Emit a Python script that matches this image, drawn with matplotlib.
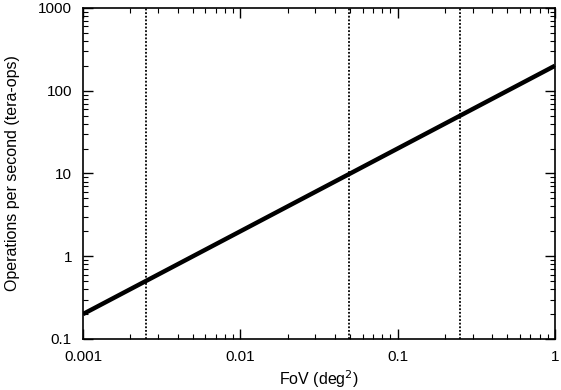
import numpy as np
import matplotlib
matplotlib.use('Agg')
import matplotlib.pyplot as plt

# FoV (deg^2) vs operations per second, log-log
fov = [0.001, 1.0]
teraops = [0.2, 200.0]

# vertical markers
fov_marks = [0.0025, 0.049, 0.25]

plt.rcParams['font.family'] = ['Liberation Sans', 'DejaVu Sans']
plt.rcParams['font.size'] = 11

fig = plt.figure(figsize=(5.61, 3.90), dpi=100)
ax = fig.add_axes([0.148, 0.1308, 0.841, 0.8487])

ax.plot(fov, teraops, color='black', lw=3.2, solid_capstyle='butt')
for m in fov_marks:
    ax.axvline(m, color='black', lw=1.3, ls=(0, (1, 1)))

ax.set_xscale('log')
ax.set_yscale('log')
ax.set_xlim(0.001, 1)
ax.set_ylim(0.1, 1000)

ax.set_xticks([0.001, 0.01, 0.1, 1])
ax.set_xticklabels(['0.001', '0.01', '0.1', '1'])
ax.set_yticks([0.1, 1, 10, 100, 1000])
ax.set_yticklabels(['0.1', '1', '10', '100', '1000'])

ax.tick_params(which='both', direction='in', top=True, right=True, color='black')
ax.tick_params(axis='x', which='major', pad=8)
ax.tick_params(axis='y', which='major', pad=8)
ax.tick_params(which='major', length=7, width=1)
ax.tick_params(which='minor', length=3.5, width=0.8)
for s in ax.spines.values():
    s.set_linewidth(1.2)

ax.set_xlabel('FoV (deg$^2$)', labelpad=3, fontsize=11.5)
ax.set_ylabel('Operations per second (tera-ops)', labelpad=13, fontsize=11.5)

fig.savefig('out.png', dpi=100)
